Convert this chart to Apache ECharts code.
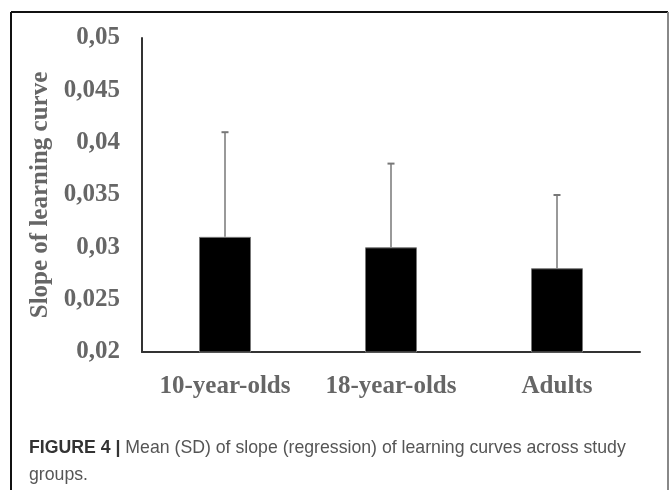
<!DOCTYPE html>
<html>
<head>
<meta charset="utf-8">
<script src="https://cdn.jsdelivr.net/npm/echarts@6/dist/echarts.min.js"></script>
<style>
html,body{margin:0;padding:0;background:#fff;}
#main{width:670px;height:490px;}
</style>
</head>
<body>
<div id="main"></div>
<script>
const categories = ['10-year-olds', '18-year-olds', 'Adults'];
const means = [0.031, 0.030, 0.028];
const sds = [0.010, 0.008, 0.007];
const yMin = 0.02, yMax = 0.05, yStep = 0.005;

const chart = echarts.init(document.getElementById('main'));
const serif = '"Liberation Serif", "Times New Roman", serif';
const sans = '"Liberation Sans", Arial, Helvetica, sans-serif';

chart.setOption({
  animation: false,
  backgroundColor: '#fff',
  grid: { left: 142, right: 30, top: 38, bottom: 138 },
  title: {
    left: 24, top: 430,
    text: '{b|FIGURE 4 |} Mean (SD) of slope (regression) of learning curves across study\ngroups.',
    textStyle: {
      fontFamily: sans, fontSize: 17.7, color: '#555', fontWeight: 'normal', lineHeight: 27,
      rich: { b: { fontFamily: sans, fontSize: 17.7, fontWeight: 'bold', color: '#333', lineHeight: 27 } }
    }
  },
  graphic: [
    { type: 'line', shape: { x1: 11, y1: 12, x2: 668, y2: 12 }, style: { stroke: '#111', lineWidth: 2 } },
    { type: 'line', shape: { x1: 11, y1: 12, x2: 11, y2: 490 }, style: { stroke: '#111', lineWidth: 2 } },
    { type: 'line', shape: { x1: 668, y1: 12, x2: 668, y2: 490 }, style: { stroke: '#888', lineWidth: 2 } }
  ],
  xAxis: {
    type: 'category',
    data: categories,
    axisLine: { lineStyle: { color: '#333', width: 2 } },
    axisTick: { show: false },
    axisLabel: { interval: 0, hideOverlap: false, fontFamily: serif, fontSize: 25, fontWeight: 'bold', color: '#666', margin: 22 }
  },
  yAxis: {
    type: 'value',
    min: yMin, max: yMax, interval: yStep,
    name: 'Slope of learning curve',
    nameLocation: 'middle',
    nameGap: 88,
    nameTextStyle: { fontFamily: serif, fontSize: 25, fontWeight: 'bold', color: '#666' },
    axisLine: { show: true, lineStyle: { color: '#333', width: 2 } },
    axisTick: { show: false },
    splitLine: { show: false },
    axisLabel: {
      fontFamily: serif, fontSize: 25, fontWeight: 'bold', color: '#666', margin: 22,
      formatter: v => String(+(+v).toFixed(3)).replace('.', ',')
    }
  },
  series: [
    {
      type: 'bar',
      data: means,
      barWidth: 52,
      itemStyle: { color: '#000', borderColor: '#777', borderWidth: 1 },
      z: 2
    },
    {
      type: 'custom',
      data: means.map((m, i) => [i, m, m + sds[i]]),
      renderItem: function (params, api) {
        const base = api.coord([api.value(0), api.value(1)]);
        const top = api.coord([api.value(0), api.value(2)]);
        const cap = 3.5;
        return {
          type: 'group',
          children: [
            { type: 'line', shape: { x1: base[0], y1: base[1], x2: top[0], y2: top[1] }, style: { stroke: '#777', lineWidth: 1.5 } },
            { type: 'line', shape: { x1: top[0] - cap, y1: top[1], x2: top[0] + cap, y2: top[1] }, style: { stroke: '#777', lineWidth: 2 } }
          ]
        };
      },
      z: 3
    }
  ]
});
</script>
</body>
</html>
